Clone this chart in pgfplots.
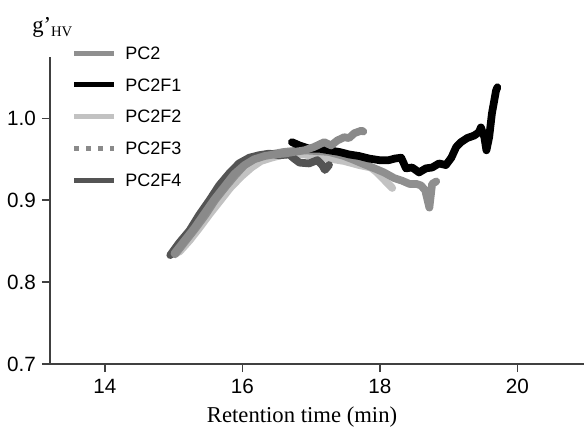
\documentclass[border=0pt]{standalone}
\usepackage{pgfplots}
\pgfplotsset{compat=1.18}
\usepackage{fontspec}
\setmainfont{Liberation Serif}
\newfontfamily\arial{Liberation Sans}
\usetikzlibrary{calc}
\definecolor{cA}{gray}{0.56}
\definecolor{cB}{gray}{0.0}
\definecolor{cC}{gray}{0.76}
\definecolor{cD}{gray}{0.54}
\definecolor{cE}{gray}{0.33}
\definecolor{axc}{gray}{0.25}
\begin{document}
\begin{tikzpicture}
\begin{axis}[
  name=ax,
  scale only axis,
  width=400.5pt, height=230.25pt,
  xmin=13.2, xmax=20.97, ymin=0.7, ymax=1.075,
  axis x line*=bottom, axis y line*=left,
  axis line style={axc, line width=1.4pt, -},
  tick align=outside,
  major tick length=6pt,
  every tick/.style={axc, line width=1.2pt},
  xtick={14,16,18,20}, ytick={0.7,0.8,0.9,1.0},
  yticklabel style={/pgf/number format/fixed, /pgf/number format/fixed zerofill, /pgf/number format/precision=1, xshift=-1pt},
  /pgf/number format/assume math mode=true,
  tick label style={font=\arial\fontsize{15.5}{15.5}\selectfont, text=black},
  xticklabel style={yshift=-2pt},
  every axis x label/.style={at={(axis description cs:0.472,-0.192)}, anchor=base, font=\fontsize{17}{17}\selectfont},
  every axis y label/.style={at={(axis description cs:-0.042,1.081)}, anchor=base west, font=\fontsize{17}{17}\selectfont},
  xlabel={Retention time (min)},
  ylabel={g’\raisebox{-3pt}{\fontsize{11}{11}\selectfont HV}},
  clip=false,
  legend cell align=left,
  legend style={draw=none, fill=none, font=\arial\fontsize{13.5}{13.5}\selectfont,
    at={(axis description cs:0.04,1.034)}, anchor=north west,
    row sep=14.6pt, inner sep=0pt, column sep=6.5pt,
    nodes={inner sep=0pt, text height=9.3pt, text depth=0pt}},
  legend image code/.code={\draw[#1, line width=3.8pt, line cap=butt] (0pt,0pt) -- (30pt,0pt);},
  every axis plot/.append style={line width=5.8pt, line join=round, line cap=round},
]
\addlegendimage{cA}
\addlegendentry{PC2}
\addlegendimage{cB}
\addlegendentry{PC2F1}
\addlegendimage{cC}
\addlegendentry{PC2F2}
\addlegendimage{cD, dash pattern=on 4pt off 5pt}
\addlegendentry{PC2F3}
\addlegendimage{cE}
\addlegendentry{PC2F4}

% PC2F2
\addplot[cC, forget plot] coordinates {
(15.08,0.837)(15.23,0.851)(15.37,0.866)(15.52,0.883)(15.68,0.900)(15.82,0.915)
(15.98,0.929)(16.13,0.940)(16.27,0.948)(16.42,0.952)(16.56,0.955)(16.68,0.956)
(16.80,0.957)(16.90,0.956)(17.04,0.954)(17.26,0.951)(17.48,0.948)(17.70,0.943)
(17.87,0.940)(17.96,0.934)(18.03,0.928)(18.11,0.921)(18.18,0.915)};
% PC2
\addplot[cA, forget plot] coordinates {
(15.02,0.834)(15.16,0.849)(15.31,0.865)(15.46,0.882)(15.60,0.900)(15.75,0.916)
(15.89,0.930)(16.03,0.943)(16.18,0.951)(16.33,0.955)(16.47,0.957)(16.60,0.959)
(16.72,0.960)(16.90,0.961)(17.09,0.960)(17.26,0.959)(17.48,0.954)(17.63,0.949)
(17.77,0.944)(17.92,0.939)(18.06,0.934)(18.21,0.927)(18.32,0.924)(18.43,0.920)
(18.53,0.920)(18.60,0.918)(18.66,0.912)(18.72,0.891)(18.76,0.920)(18.82,0.923)};
% PC2F4
\addplot[cE, forget plot] coordinates {
(14.95,0.833)(15.08,0.848)(15.23,0.863)(15.37,0.882)(15.52,0.900)(15.66,0.918)
(15.81,0.933)(15.95,0.945)(16.10,0.952)(16.24,0.955)(16.39,0.957)(16.54,0.955)
(16.68,0.956)(16.75,0.951)(16.83,0.946)(16.97,0.945)(17.09,0.949)(17.16,0.943)
(17.20,0.937)(17.26,0.943)};
% PC2F1
\addplot[cB, forget plot] coordinates {
(16.72,0.971)(16.83,0.967)(16.97,0.963)(17.12,0.963)(17.26,0.961)(17.41,0.959)
(17.55,0.956)(17.70,0.954)(17.84,0.951)(17.99,0.949)(18.13,0.949)(18.22,0.951)
(18.31,0.952)(18.38,0.939)(18.47,0.940)(18.57,0.934)(18.67,0.939)(18.76,0.940)
(18.86,0.945)(18.96,0.943)(19.04,0.952)(19.11,0.965)(19.18,0.971)(19.27,0.976)
(19.37,0.979)(19.44,0.983)(19.47,0.989)(19.52,0.977)(19.55,0.961)(19.59,0.977)
(19.63,1.006)(19.69,1.034)(19.71,1.038)};
% PC2F3
\addplot[cD, forget plot] coordinates {
(15.01,0.835)(15.15,0.850)(15.30,0.866)(15.44,0.883)(15.59,0.901)(15.74,0.917)
(15.88,0.932)(16.03,0.943)(16.17,0.950)(16.32,0.954)(16.46,0.956)(16.61,0.957)
(16.75,0.959)(16.90,0.961)(17.04,0.965)(17.19,0.971)(17.29,0.967)(17.38,0.973)
(17.48,0.977)(17.55,0.976)(17.63,0.982)(17.73,0.985)(17.76,0.984)};
\end{axis}
\pgfresetboundingbox
\path ($(ax.south west)+(-37.5pt,-51.75pt)$) rectangle ($(ax.north east)+(0pt,42.75pt)$);
\end{tikzpicture}
\end{document}
